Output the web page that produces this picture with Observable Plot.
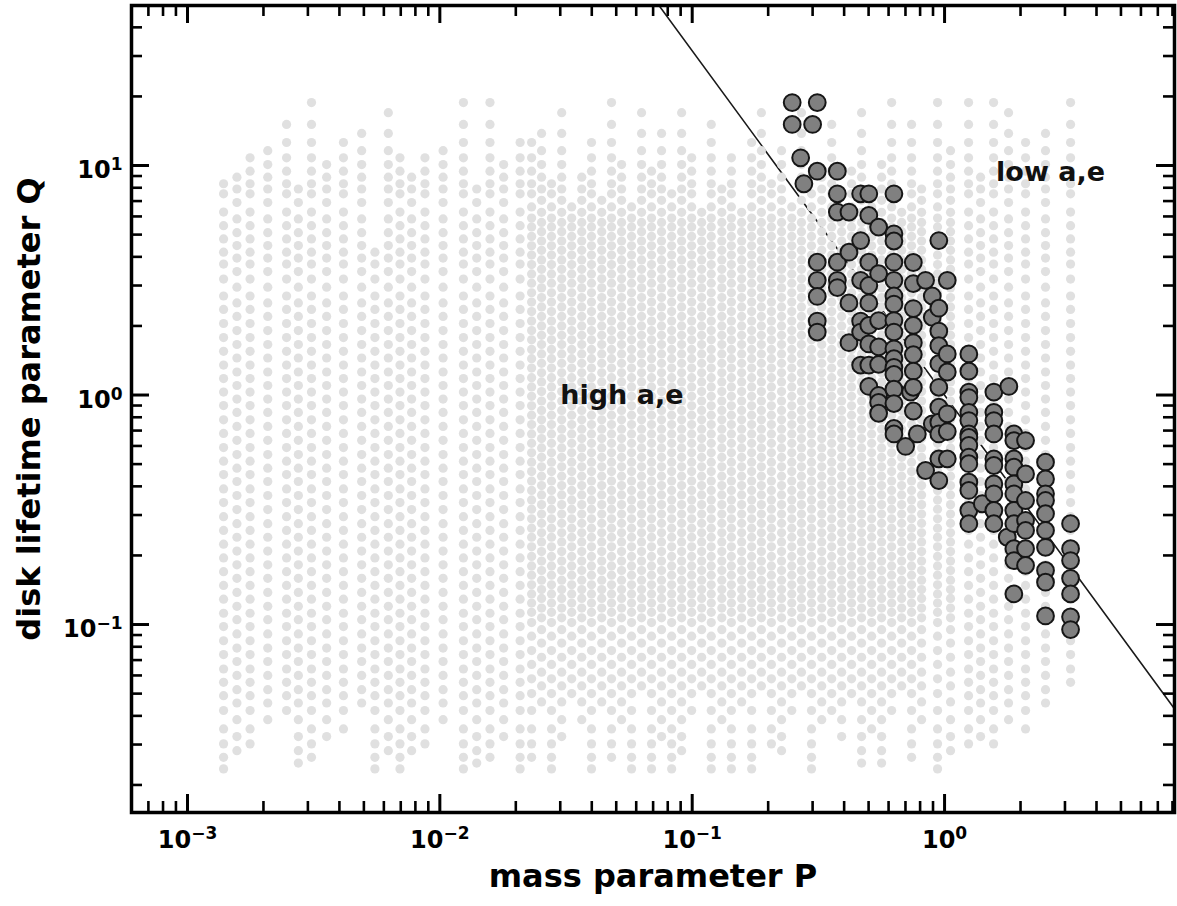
<!DOCTYPE html>
<html><head><meta charset="utf-8">
<script src="https://cdn.jsdelivr.net/npm/d3@7"></script>
<script src="https://cdn.jsdelivr.net/npm/@observablehq/plot@0.6"></script>
<style>body{margin:0;background:#fff;} #chart svg{display:block;}</style>
</head><body><div id="chart"></div>
<script>
// ---------- data ----------
// grey background cloud: columns (P), their Q extent and which level set they use
const greyP = [1.39e-3,1.57e-3,1.77e-3,2.08e-3,2.47e-3,2.75e-3,3.10e-3,3.56e-3,4.15e-3,4.90e-3,5.53e-3,6.25e-3,6.95e-3,7.73e-3,8.73e-3,0.0103,0.0124,0.0140,0.0158,0.0179,0.0208,
  0.0231,0.0253,0.0277,0.0304,0.0333,0.0365,0.0399,0.0438,0.0479,0.0525,0.0575,0.0630,0.0690,0.0756,0.0829,0.0908,0.0995,0.109,0.119,0.131,0.143,0.157,0.172,0.188,0.206,0.226,0.248,0.271,0.297,0.326,0.357,0.391,0.428,0.469,0.514,0.563,0.617,0.676,0.740,0.811,
  0.938,1.056,1.245,1.389,1.564,1.793,2.094,2.512,3.157];
const greyTop = [8.33,9.45,10.7,12.6,15.1,8.33,18.8,10.8,12.6,15.1,4.19,18.8,10.8,9.45,10.8,12.6,18.8,8.33,18.8,10.8,12.6,
  12.6,15.1,8.33,18.8,6.6,9.45,12.6,7.53,18.8,10.8,6.6,18.8,9.45,15.1,7.53,18.8,10.8,6.6,15.1,8.33,10.8,6.6,12.6,18.8,8.33,12.6,6.6,18.8,7.53,9.45,15.1,6.6,9.45,18.8,7.53,10.8,18.8,6.6,15.1,8.33,
  18.8,12.6,18.8,9.45,18.8,18.8,12.6,15.1,18.8];
const greyBottom = [0.0235,0.0264,0.0302,0.0351,0.0422,0.0235,0.0264,0.0302,0.0351,0.0422,0.0235,0.0264,0.0235,0.0264,0.0302,0.0351,0.0235,0.0235,0.0264,0.0302,0.0235,
  0.0264,0.0422,0.0235,0.0302,0.05,0.0351,0.0235,0.0422,0.0264,0.0351,0.0235,0.05,0.0235,0.0302,0.0235,0.0264,0.0422,0.05,0.0235,0.0351,0.0235,0.0422,0.0235,0.05,0.0302,0.0264,0.0422,0.05,0.0235,0.0351,0.0422,0.0302,0.05,0.0235,0.0351,0.0235,0.0422,0.05,0.0264,0.0351,
  0.0235,0.0264,0.0302,0.0302,0.0302,0.0351,0.0351,0.0422,0.0531];
const greyGrid = ["A","B","A","B","A","B","A","B","A","B","A","B","A","B","A","B","A","B","A","B","A",
  "dA","dB","dA","dB","dA","dB","dA","dB","dA","dB","dA","dB","dA","dB","dA","dB","dA","dB","dA","dB","dA","dB","dA","dB","dA","dB","dA","dB","dA","dB","dA","dB","dA","dB","dA","dB","dA","dB","dA","dB",
  "dA","dB","A","B","A","B","A","B","A"];
const qSparseA = [18.8,15.1,12.6,10.8,9.45,8.33,7.53,6.27,5.47,4.79,4.19,3.72,3.2,2.7,2.36,2.05,1.78,1.55,1.35,1.18,1.03,0.9,0.78,0.68,0.59,0.515,0.45,0.39,0.34,0.295,0.257,0.224,0.195,0.17,0.148,0.129,0.112,0.098,0.085,0.074,0.064,0.056,0.049,0.0422,0.0351,0.0302,0.0264,0.0235];
const qSparseB = [17.0,13.8,11.6,10.1,8.9,7.9,6.9,5.85,5.1,4.48,3.95,3.45,2.95,2.52,2.2,1.91,1.66,1.45,1.26,1.1,0.96,0.84,0.73,0.635,0.55,0.48,0.42,0.365,0.317,0.275,0.24,0.209,0.182,0.159,0.138,0.12,0.105,0.091,0.079,0.069,0.06,0.052,0.0455,0.0385,0.0325,0.0282,0.0249];
const qDenseA = [18.8,15.1,12.6,10.8,9.45,8.33,7.53,6.6,5.9,5.4,4.91,4.47,4.07,3.7,3.37,3.07,2.79,2.54,2.31,2.1,1.91,1.74,1.58,1.44,1.31,1.19,1.085,0.987,0.898,0.817,0.744,0.677,0.616,0.56,0.51,0.464,0.422,0.384,0.349,0.318,0.289,0.263,0.24,0.218,0.198,0.18,0.164,0.149,0.136,0.124,0.113,0.102,0.089,0.077,0.067,0.058,0.05,0.0422,0.0351,0.0302,0.0264,0.0235];
const qDenseB = [17.0,13.8,11.6,10.1,8.9,7.9,7.05,6.25,5.65,5.15,4.69,4.27,3.88,3.53,3.21,2.93,2.66,2.42,2.2,2.0,1.82,1.66,1.51,1.375,1.25,1.14,1.035,0.942,0.857,0.78,0.71,0.646,0.588,0.535,0.487,0.443,0.403,0.367,0.333,0.303,0.276,0.251,0.229,0.208,0.189,0.172,0.156,0.142,0.13,0.118,0.107,0.095,0.083,0.072,0.062,0.054,0.046,0.0385,0.0325,0.0282,0.0249];

// highlighted (dark) models: column P and its Q values
const darkP = [0.249,0.269,0.277,0.300,0.313,0.376,0.418,0.465,0.501,0.548,0.630,0.701,0.733,0.752,0.780,0.841,0.894,0.949,1.025,1.248,1.411,1.568,1.772,1.798,1.882,2.094,2.512,3.157];
const darkQ = [
 [18.8,15.1],
 [10.8],
 [8.33],
 [15.1],
 [18.8,9.45,3.79,3.16,2.69,2.10,1.88],
 [9.45,7.53,6.27,3.79,3.16,2.94],
 [6.27,4.19,2.52,1.69],
 [7.53,4.71,3.16,2.10,1.88,1.35],
 [7.53,6.06,3.79,3.00,2.52,2.01,1.67,1.35,1.09],
 [5.39,3.38,2.11,1.62,1.36,0.995,0.928,0.833],
 [7.53,5.04,4.69,3.79,3.16,2.70,2.49,2.11,1.88,1.59,1.44,1.32,1.23,1.06,0.918,0.715,0.677],
 [0.597],
 [1.03],
 [3.78,3.06,2.38,2.01,1.69,1.50,1.27,1.08,0.852],
 [0.677],
 [3.16,0.469],
 [2.70,2.18,0.749],
 [4.71,2.39,1.90,1.64,1.37,1.08,0.885,0.761,0.677,0.527,0.424],
 [3.16,1.51,1.26,0.828,0.693,0.527],
 [1.51,1.27,1.03,0.975,0.841,0.774,0.677,0.653,0.603,0.536,0.502,0.417,0.384,0.314,0.275],
 [0.336],
 [1.03,0.841,0.774,0.677,0.527,0.493,0.410,0.371,0.314,0.275],
 [0.240],
 [1.09],
 [0.677,0.633,0.527,0.485,0.410,0.371,0.314,0.275,0.214,0.190,0.136],
 [0.633,0.453,0.347,0.284,0.257,0.214,0.181],
 [0.510,0.431,0.371,0.347,0.304,0.257,0.217,0.172,0.153,0.109],
 [0.275,0.214,0.190,0.159,0.136,0.108,0.0951]
];

// boundary line Q = P^-1.5 (end points)
const lineP = [0.05, 10];
const lineQ = [89.4, 0.0316];

// annotations
const annotText = ["high a,e", "low a,e"];
const annotP = [0.03, 1.6];
const annotQ = [1.0, 9.3];

// ticks (labels written as base^exponent)
const xMajor = [1e-3, 1e-2, 1e-1, 1];
const xLabels = ["10^\u22123", "10^\u22122", "10^\u22121", "10^0"];
const yMajor = [0.1, 1, 10];
const yLabels = ["10^\u22121", "10^0", "10^1"];
const minorMult = [2,3,4,5,6,7,8,9];
const xMinor = [7e-4, 8e-4, 9e-4].concat(...[1e-3,1e-2,1e-1,1].map(d => minorMult.map(m => +(m*d).toPrecision(3)))).filter(v => v < 8.15);
const yMinor = [0.01,0.1,1,10].flatMap(d => minorMult.map(m => +(m*d).toPrecision(3))).filter(v => v > 0.0152 && v < 49.8);

// ---------- build tables ----------
const levelSets = {A: qSparseA, B: qSparseB, dA: qDenseA, dB: qDenseB};
const grey = [];
greyP.forEach((p, i) => {
  for (const q of levelSets[greyGrid[i]]) {
    if (q <= greyTop[i] * 1.02 && q >= greyBottom[i] * 0.98) grey.push({P: p, Q: q});
  }
});
const dark = [];
darkP.forEach((p, i) => darkQ[i].forEach(q => dark.push({P: p, Q: q})));
const lineData = lineP.map((p, i) => ({P: p, Q: lineQ[i]}));
const annots = annotText.map((t, i) => ({t, P: annotP[i], Q: annotQ[i]}));

// ---------- layout ----------
const W = 1177, H = 906, mL = 131, mR = 3, mT = 5, mB = 94;
const fw = W - mL - mR, fh = H - mT - mB;
const majLen = 18, minLen = 11;

const chart = Plot.plot({
  width: W, height: H,
  marginLeft: mL, marginRight: mR, marginTop: mT, marginBottom: mB,
  x: {type: "log", domain: [6.0e-4, 8.15], axis: null},
  y: {type: "log", domain: [0.01517, 49.8], axis: null},
  style: {fontFamily: "'DejaVu Sans', sans-serif", fontWeight: "bold", background: "white", color: "black", overflow: "visible"},
  marks: [
    Plot.line(lineData, {x: "P", y: "Q", stroke: "#1a1a1a", strokeWidth: 1.6, clip: true}),
    Plot.dot(grey, {x: "P", y: "Q", r: 4.6, fill: "#e0e0e0", stroke: null, clip: true}),
    Plot.dot(dark, {x: "P", y: "Q", r: 8.4, fill: "#808080", stroke: "#161616", strokeWidth: 2}),
    Plot.text(annots, {x: "P", y: "Q", text: "t", textAnchor: "start", lineAnchor: "middle", fontSize: 27, fontWeight: "bold", fill: "#111"}),
    // inward ticks, four sides
    Plot.ruleX(xMajor, {x: d => d, insetTop: fh - majLen, stroke: "black", strokeWidth: 3}),
    Plot.ruleX(xMajor, {x: d => d, insetBottom: fh - majLen, stroke: "black", strokeWidth: 3}),
    Plot.ruleX(xMinor, {x: d => d, insetTop: fh - minLen, stroke: "black", strokeWidth: 2.6}),
    Plot.ruleX(xMinor, {x: d => d, insetBottom: fh - minLen, stroke: "black", strokeWidth: 2.6}),
    Plot.ruleY(yMajor, {y: d => d, insetRight: fw - majLen, stroke: "black", strokeWidth: 3}),
    Plot.ruleY(yMajor, {y: d => d, insetLeft: fw - majLen, stroke: "black", strokeWidth: 3}),
    Plot.ruleY(yMinor, {y: d => d, insetRight: fw - minLen, stroke: "black", strokeWidth: 2.6}),
    Plot.ruleY(yMinor, {y: d => d, insetLeft: fw - minLen, stroke: "black", strokeWidth: 2.6}),
    Plot.frame({stroke: "black", strokeWidth: 3.5}),
    // tick labels
    Plot.text(xMajor, {x: d => d, text: (d, i) => xLabels[i], frameAnchor: "bottom", dy: 35, textAnchor: "middle", fontSize: 24, fontWeight: "bold", fill: "black"}),
    Plot.text(yMajor, {y: d => d, text: (d, i) => yLabels[i], frameAnchor: "left", dx: -9, dy: 5, textAnchor: "end", fontSize: 24, fontWeight: "bold", fill: "black"}),
    // axis titles
    Plot.text(["mass parameter P"], {text: d => d, frameAnchor: "bottom", dy: 74, textAnchor: "middle", fontSize: 32, fontWeight: "bold", fill: "black"}),
    Plot.text(["disk lifetime parameter Q"], {text: d => d, frameAnchor: "left", dx: -102, rotate: -90, textAnchor: "middle", fontSize: 32, fontWeight: "bold", fill: "black"})
  ]
});
// turn "10^e" labels into a base with a real superscript
chart.querySelectorAll("text").forEach(t => {
  const m = /^10\^(.+)$/.exec(t.textContent);
  if (!m) return;
  t.textContent = "10";
  const s = document.createElementNS("http://www.w3.org/2000/svg", "tspan");
  s.setAttribute("dy", "-0.48em");
  s.setAttribute("font-size", "17");
  s.textContent = m[1];
  t.appendChild(s);
});
document.getElementById("chart").appendChild(chart);
</script></body></html>
